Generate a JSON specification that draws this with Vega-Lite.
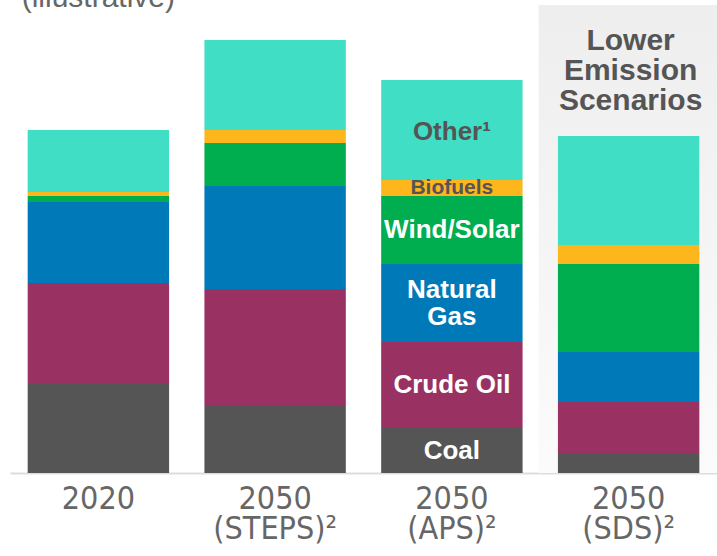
{
  "$schema": "https://vega.github.io/schema/vega-lite/v6.json",
  "width": 707,
  "height": 473,
  "autosize": {"type": "none"},
  "padding": {"left": 10, "top": 0, "right": 0, "bottom": 83},
  "background": "white",
  "config": {"view": {"stroke": null}},
  "datasets": {
    "energy": [
      {"scen": "2020", "fuel": "Coal", "v": 90, "ord": 1, "label": ""},
      {"scen": "2020", "fuel": "Crude Oil", "v": 100, "ord": 2, "label": ""},
      {"scen": "2020", "fuel": "Natural Gas", "v": 81, "ord": 3, "label": ""},
      {"scen": "2020", "fuel": "Wind/Solar", "v": 6, "ord": 4, "label": ""},
      {"scen": "2020", "fuel": "Biofuels", "v": 4, "ord": 5, "label": ""},
      {"scen": "2020", "fuel": "Other", "v": 62, "ord": 6, "label": ""},
      {"scen": "2050|(STEPS)²", "fuel": "Coal", "v": 68, "ord": 1, "label": ""},
      {"scen": "2050|(STEPS)²", "fuel": "Crude Oil", "v": 116, "ord": 2, "label": ""},
      {"scen": "2050|(STEPS)²", "fuel": "Natural Gas", "v": 103, "ord": 3, "label": ""},
      {"scen": "2050|(STEPS)²", "fuel": "Wind/Solar", "v": 43, "ord": 4, "label": ""},
      {"scen": "2050|(STEPS)²", "fuel": "Biofuels", "v": 13, "ord": 5, "label": ""},
      {"scen": "2050|(STEPS)²", "fuel": "Other", "v": 90, "ord": 6, "label": ""},
      {"scen": "2050|(APS)²", "fuel": "Coal", "v": 45, "ord": 1, "label": "Coal"},
      {"scen": "2050|(APS)²", "fuel": "Crude Oil", "v": 86, "ord": 2, "label": "Crude Oil"},
      {"scen": "2050|(APS)²", "fuel": "Natural Gas", "v": 78, "ord": 3, "label": "Natural|Gas"},
      {"scen": "2050|(APS)²", "fuel": "Wind/Solar", "v": 68, "ord": 4, "label": "Wind/Solar"},
      {"scen": "2050|(APS)²", "fuel": "Biofuels", "v": 16, "ord": 5, "label": "Biofuels"},
      {"scen": "2050|(APS)²", "fuel": "Other", "v": 100, "ord": 6, "label": "Other¹"},
      {"scen": "2050|(SDS)²", "fuel": "Coal", "v": 19, "ord": 1, "label": ""},
      {"scen": "2050|(SDS)²", "fuel": "Crude Oil", "v": 52, "ord": 2, "label": ""},
      {"scen": "2050|(SDS)²", "fuel": "Natural Gas", "v": 50, "ord": 3, "label": ""},
      {"scen": "2050|(SDS)²", "fuel": "Wind/Solar", "v": 88, "ord": 4, "label": ""},
      {"scen": "2050|(SDS)²", "fuel": "Biofuels", "v": 19, "ord": 5, "label": ""},
      {"scen": "2050|(SDS)²", "fuel": "Other", "v": 109, "ord": 6, "label": ""}
    ]
  },
  "encoding": {
    "x": {
      "field": "scen",
      "type": "nominal",
      "sort": ["2020", "2050|(STEPS)²", "2050|(APS)²", "2050|(SDS)²"],
      "scale": {"paddingInner": 0.2, "paddingOuter": 0.1},
      "axis": {
        "title": null,
        "domainColor": "#dddddd",
        "domainWidth": 2,
        "ticks": false,
        "labelFont": "'Liberation Sans Narrow', 'DejaVu Sans Condensed', Roboto, sans-serif",
        "labelFontSize": 32,
        "labelColor": "#666666",
        "labelPadding": 10,
        "labelLineHeight": 30,
        "labelAngle": 0,
        "labelBaseline": "top",
        "labelOverlap": false,
        "labelLimit": 0,
        "labelExpr": "split(datum.label, '|')"
      }
    }
  },
  "layer": [
    {
      "data": {"values": [{"scen": "2050|(SDS)²", "v": 468}]},
      "mark": {
        "type": "bar",
        "width": 180,
        "color": {
          "gradient": "linear", "x1": 0, "y1": 0, "x2": 0, "y2": 1,
          "stops": [{"offset": 0, "color": "#eeeeee"}, {"offset": 1, "color": "#fbfbfb"}]
        }
      },
      "encoding": {
        "y": {"field": "v", "type": "quantitative", "scale": {"domain": [0, 473], "nice": false}, "axis": null}
      }
    },
    {
      "data": {"name": "energy"},
      "mark": {"type": "bar"},
      "encoding": {
        "y": {"field": "v", "type": "quantitative", "stack": "zero", "scale": {"domain": [0, 473], "nice": false}, "axis": null},
        "color": {
          "field": "fuel",
          "type": "nominal",
          "scale": {
            "domain": ["Coal", "Crude Oil", "Natural Gas", "Wind/Solar", "Biofuels", "Other"],
            "range": ["#555555", "#993262", "#0079b9", "#00ae4f", "#fdb61c", "#3fdec5"]
          },
          "legend": null
        },
        "order": {"field": "ord", "type": "quantitative"}
      }
    },
    {
      "data": {"name": "energy"},
      "transform": [
        {"stack": "v", "groupby": ["scen"], "sort": [{"field": "ord"}], "as": ["y0", "y1"]},
        {"filter": "datum.label != ''"},
        {"calculate": "(datum.y0 + datum.y1) / 2 + (datum.fuel == 'Natural Gas' ? 13.5 : 0) - (datum.fuel == 'Other' ? 2 : 0)", "as": "mid"}
      ],
      "mark": {"type": "text", "font": "Liberation Sans", "fontWeight": "bold", "lineBreak": "|", "lineHeight": 27, "baseline": "middle", "align": "center"},
      "encoding": {
        "y": {"field": "mid", "type": "quantitative", "scale": {"domain": [0, 473], "nice": false}, "axis": null},
        "text": {"field": "label"},
        "color": {"condition": {"test": "datum.fuel == 'Biofuels' || datum.fuel == 'Other'", "value": "#555555"}, "value": "#ffffff"},
        "size": {"condition": {"test": "datum.fuel == 'Biofuels'", "value": 21}, "value": 26}
      }
    },
    {
      "data": {"values": [{"scen": "2050|(SDS)²", "t": "Lower|Emission|Scenarios", "y": 432}]},
      "mark": {"type": "text", "font": "Liberation Sans", "fontWeight": "bold", "fontSize": 30, "lineBreak": "|", "lineHeight": 30, "baseline": "middle", "align": "center", "color": "#555555", "dx": 2},
      "encoding": {
        "y": {"field": "y", "type": "quantitative", "scale": {"domain": [0, 473], "nice": false}, "axis": null},
        "text": {"field": "t"}
      }
    },
    {
      "data": {"values": [{"scen": "2020", "t": "(illustrative)", "y": 466}]},
      "mark": {"type": "text", "font": "Liberation Sans", "fontSize": 30, "baseline": "alphabetic", "align": "left", "color": "#666666", "dx": -6},
      "encoding": {
        "x": {"field": "scen", "type": "nominal", "bandPosition": 0, "sort": ["2020", "2050|(STEPS)²", "2050|(APS)²", "2050|(SDS)²"]},
        "y": {"field": "y", "type": "quantitative", "scale": {"domain": [0, 473], "nice": false}, "axis": null},
        "text": {"field": "t"}
      }
    }
  ]
}
